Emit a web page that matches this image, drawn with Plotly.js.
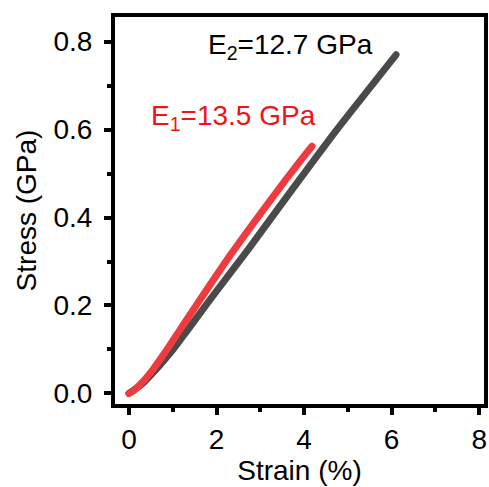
<!DOCTYPE html>
<html>
<head>
<meta charset="utf-8">
<script src="https://cdn.plot.ly/plotly-3.0.1.min.js"></script>
<style>
  html, body { margin: 0; padding: 0; background: #fff; }
  #chart { width: 489px; height: 487px; }
  /* rounded ends on the curves */
  #chart .scatterlayer path.js-line { stroke-linecap: round; stroke-linejoin: round; }
</style>
</head>
<body>
<div id="chart"></div>
<script>
// Stress–strain curves of the two films
const strainE2 = [0, 0.3, 0.7, 1.0, 1.3, 1.85, 2.72, 3.7, 4.75, 6.1];
const stressE2 = [0, 0.022, 0.064, 0.099, 0.139, 0.213, 0.327, 0.46, 0.6, 0.77];

const strainE1 = [0, 0.1, 0.3, 0.55, 0.82, 1.1, 1.5, 2.31, 3.37, 3.83, 4.18];
const stressE1 = [0, 0.006, 0.025, 0.055, 0.093, 0.135, 0.195, 0.314, 0.458, 0.518, 0.562];

const labelE2 = 'E<sub>2</sub>=12.7 GPa';
const labelE1 = 'E<sub>1</sub>=13.5 GPa';

const xTicks = [0, 2, 4, 6, 8];
const yTicks = [0.0, 0.2, 0.4, 0.6, 0.8];

const FONT = 'Arial, "Liberation Sans", sans-serif';
const SIZE = 28;

const traces = [
  {
    x: strainE2, y: stressE2, mode: 'lines', type: 'scatter',
    line: { color: '#4a4a4a', width: 7, shape: 'spline', smoothing: 0.6 },
    hoverinfo: 'skip'
  },
  {
    x: strainE1, y: stressE1, mode: 'lines', type: 'scatter',
    line: { color: '#ef3b40', width: 7, shape: 'spline', smoothing: 0.6 },
    hoverinfo: 'skip'
  }
];

const axisCommon = {
  showline: true, linewidth: 4, linecolor: '#000', mirror: true,
  showgrid: false, zeroline: false,
  ticks: 'outside', ticklen: 7, tickwidth: 4, tickcolor: '#000',
  tickfont: { family: FONT, size: SIZE, color: '#000' },
  fixedrange: true
};

const layout = {
  width: 489, height: 487,
  margin: { l: 115, r: 5, t: 17, b: 83 },
  paper_bgcolor: '#fff', plot_bgcolor: '#fff',
  showlegend: false,
  xaxis: Object.assign({}, axisCommon, {
    range: [-0.32, 8.11],
    tickvals: xTicks,
    ticktext: xTicks.map(String),
    minor: { dtick: 1, tick0: 0, ticks: 'outside', ticklen: 4, tickwidth: 4, tickcolor: '#000' },
    title: { text: 'Strain (%)', font: { family: FONT, size: SIZE, color: '#000' }, standoff: 4 }
  }),
  yaxis: Object.assign({}, axisCommon, {
    range: [-0.024, 0.856],
    tickvals: yTicks,
    ticktext: yTicks.map(v => v.toFixed(1)),
    ticklabelstandoff: 6,
    minor: { dtick: 0.1, tick0: 0, ticks: 'outside', ticklen: 4, tickwidth: 4, tickcolor: '#000' },
    title: { text: 'Stress (GPa)', font: { family: FONT, size: SIZE, color: '#000' }, standoff: 10 }
  }),
  annotations: [
    {
      x: 3.69, y: 0.79, xref: 'x', yref: 'y', text: labelE2, showarrow: false,
      font: { family: FONT, size: SIZE, color: '#000' }
    },
    {
      x: 2.38, y: 0.628, xref: 'x', yref: 'y', text: labelE1, showarrow: false,
      font: { family: FONT, size: SIZE, color: '#f01414' }
    }
  ]
};

Plotly.newPlot('chart', traces, layout, { displayModeBar: false, staticPlot: true });
</script>
</body>
</html>
